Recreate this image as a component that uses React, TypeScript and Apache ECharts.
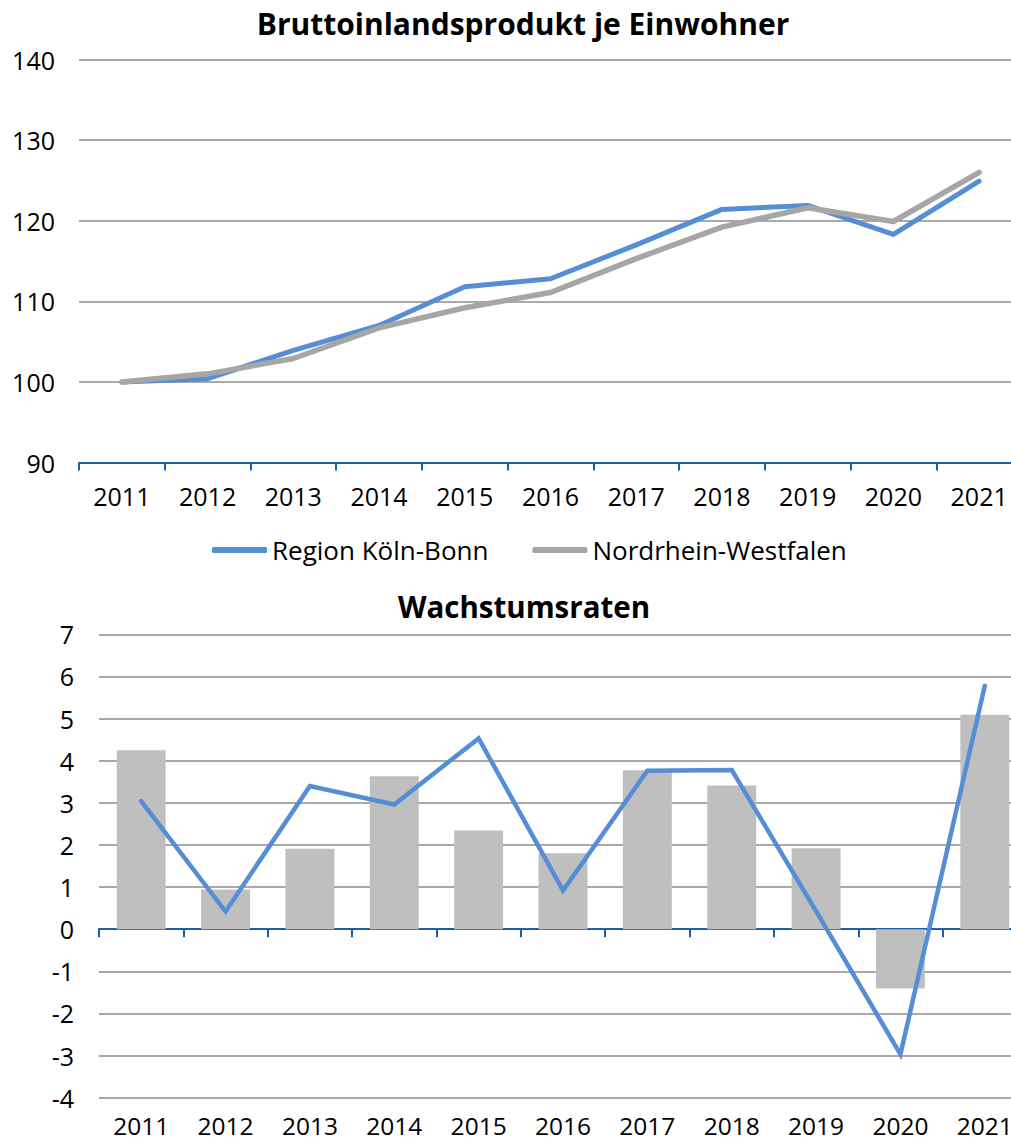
import React, { useEffect, useRef } from "react";
import * as echarts from "echarts";

const years = ["2011", "2012", "2013", "2014", "2015", "2016", "2017", "2018", "2019", "2020", "2021"];
const indexKoelnBonn = [100, 100.4, 103.9, 107.0, 111.8, 112.8, 117.0, 121.4, 121.9, 118.3, 124.9];
const indexNRW = [100, 101.0, 102.9, 106.7, 109.2, 111.1, 115.3, 119.2, 121.6, 119.9, 126.0];
const growthKoelnBonn = [3.04, 0.42, 3.4, 2.96, 4.53, 0.92, 3.76, 3.78, 0.43, -2.97, 5.78];
const growthNRW = [4.25, 0.94, 1.91, 3.63, 2.34, 1.8, 3.77, 3.41, 1.92, -1.41, 5.09];

const title1 = "Bruttoinlandsprodukt je Einwohner";
const title2 = "Wachstumsraten";
const nameKB = "Region Köln-Bonn";
const nameNRW = "Nordrhein-Westfalen";

const FONT = "'Open Sans', 'DejaVu Sans', sans-serif";
const BLUE = "#558ED5";
const GRAY = "#A6A6A6";
const BAR = "#BFBFBF";
const AXIS = "#1F5CAA";
const GRID = "#8C8C8C";

export default function App() {
  const ref = useRef<HTMLDivElement>(null);
  useEffect(() => {
    document.body.style.margin = "0";
    const chart = echarts.init(ref.current!, null, { renderer: "svg" });
    const labelStyle = { color: "#000", fontFamily: FONT, fontSize: 25, lineHeight: 22 };
    chart.setOption({
      animation: false,
      backgroundColor: "#fff",
      title: [
        {
          text: title1,
          left: 518,
          top: 3,
          textAlign: "center",
          textStyle: { fontFamily: FONT, fontWeight: "bold", fontSize: 30, color: "#000" },
        },
        {
          text: title2,
          left: 519,
          top: 586,
          textAlign: "center",
          textStyle: { fontFamily: FONT, fontWeight: "bold", fontSize: 29.5, color: "#000" },
        },
      ],
      legend: {
        left: 207,
        top: 532,
        itemWidth: 55,
        itemHeight: 6,
        itemGap: 44,
        textStyle: { fontFamily: FONT, fontSize: 26, color: "#000" },
        data: [
          { name: nameKB, icon: "roundRect", itemStyle: { color: BLUE } },
          { name: nameNRW, icon: "roundRect", itemStyle: { color: GRAY } },
        ],
      },
      grid: [
        { left: 79, top: 59.5, height: 403, width: 943, outerBoundsMode: "none", containLabel: false },
        { left: 99, top: 634.3, height: 463.4, width: 928, outerBoundsMode: "none", containLabel: false },
      ],
      xAxis: [
        {
          gridIndex: 0,
          type: "category",
          data: years,
          boundaryGap: true,
          axisLine: { lineStyle: { color: AXIS, width: 2 } },
          axisTick: { show: true, interval: 0, length: 8, lineStyle: { color: AXIS, width: 2 } },
          axisLabel: { ...labelStyle, margin: 22, interval: 0, hideOverlap: false },
        },
        {
          gridIndex: 1,
          type: "category",
          data: years,
          boundaryGap: true,
          axisLine: { onZero: true, lineStyle: { color: AXIS, width: 2 } },
          axisTick: { show: true, interval: 0, length: 8, lineStyle: { color: AXIS, width: 2 } },
          axisLabel: { show: false },
        },
        {
          gridIndex: 1,
          type: "category",
          position: "bottom",
          data: years,
          boundaryGap: true,
          axisLine: { show: false, onZero: false },
          axisTick: { show: false },
          axisLabel: {
            ...labelStyle,
            fontSize: 24.5,
            lineHeight: 20,
            margin: 18,
            interval: 0,
            hideOverlap: false,
          },
        },
      ],
      yAxis: [
        {
          gridIndex: 0,
          type: "value",
          min: 90,
          max: 140,
          interval: 10,
          axisLine: { show: false },
          axisTick: { show: false },
          axisLabel: { ...labelStyle, margin: 24 },
          splitLine: { lineStyle: { color: GRID, width: 1.5 } },
        },
        {
          gridIndex: 1,
          type: "value",
          min: -4,
          max: 7,
          interval: 1,
          axisLine: { show: false },
          axisTick: { show: false },
          axisLabel: { ...labelStyle, margin: 25 },
          splitLine: { lineStyle: { color: GRID, width: 1.5 } },
        },
      ],
      series: [
        {
          name: nameKB,
          type: "line",
          xAxisIndex: 0,
          yAxisIndex: 0,
          data: indexKoelnBonn,
          showSymbol: false,
          lineStyle: { color: BLUE, width: 5, cap: "round", join: "round" },
          itemStyle: { color: BLUE },
        },
        {
          name: nameNRW,
          type: "line",
          xAxisIndex: 0,
          yAxisIndex: 0,
          data: indexNRW,
          showSymbol: false,
          lineStyle: { color: GRAY, width: 5.5, cap: "round", join: "round" },
          itemStyle: { color: GRAY },
        },
        {
          name: "Wachstum NRW",
          type: "bar",
          xAxisIndex: 1,
          yAxisIndex: 1,
          data: growthNRW,
          barWidth: "58%",
          itemStyle: { color: BAR },
        },
        {
          name: "Wachstum Köln-Bonn",
          type: "line",
          xAxisIndex: 1,
          yAxisIndex: 1,
          data: growthKoelnBonn,
          showSymbol: false,
          lineStyle: { color: BLUE, width: 4.5, cap: "round", join: "miter" },
          itemStyle: { color: BLUE },
          z: 5,
        },
      ],
    });
    return () => chart.dispose();
  }, []);
  return <div ref={ref} style={{ width: 1011, height: 1142, overflow: "hidden" }} />;
}
